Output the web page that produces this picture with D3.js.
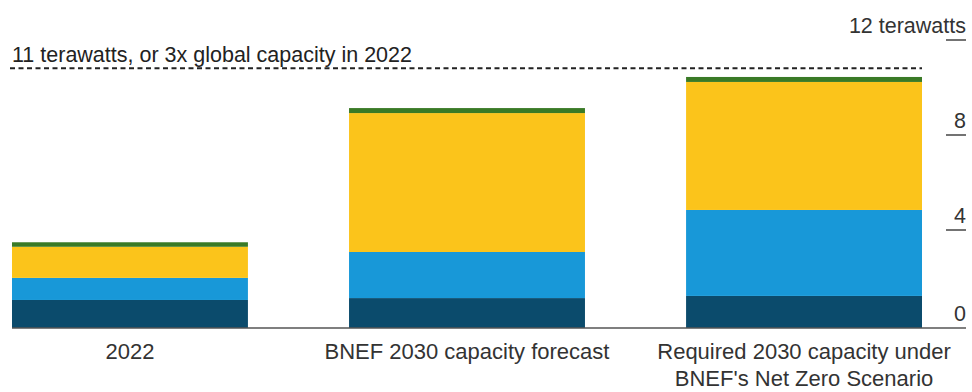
<!DOCTYPE html>
<html>
<head>
<meta charset="utf-8">
<script src="https://cdn.jsdelivr.net/npm/d3@7/dist/d3.min.js"></script>
<style>
  html, body { margin: 0; padding: 0; background: #ffffff; }
  svg { display: block; }
  text { font-family: "Liberation Sans", Arial, Helvetica, sans-serif; }
</style>
</head>
<body>
<svg id="chart" width="972" height="392"></svg>
<script>
// ---- data ----
const categories = [
  ["2022"],
  ["BNEF 2030 capacity forecast"],
  ["Required 2030 capacity under", "BNEF's Net Zero Scenario"]
];
const seriesNames = ["Dark", "Blue", "Yellow", "Green"];
const darkValues   = [1.18, 1.26, 1.35];
const blueValues   = [0.93, 1.94, 3.62];
const yellowValues = [1.31, 5.85, 5.39];
const greenValues  = [0.19, 0.21, 0.21];
const tickValues = [0, 4, 8, 12];
const tickLabels = ["0", "4", "8", "12 terawatts"];
const targetValue = 11;
const targetLabel = "11 terawatts, or 3x global capacity in 2022";
const colors = ["#0b4b6c", "#1898d8", "#fbc41b", "#3a7a26"];

// ---- build ----
const svg = d3.select("#chart");
const baseY = 328, topY = 43;
const x = d3.scaleBand().domain(d3.range(categories.length)).range([12, 922]).paddingInner(0.3).paddingOuter(0);
const y = d3.scaleLinear().domain([0, 12]).range([baseY, topY]);

const table = categories.map((c, i) => ({
  i, Dark: darkValues[i], Blue: blueValues[i], Yellow: yellowValues[i], Green: greenValues[i]
}));
const stack = d3.stack().keys(seriesNames)(table);

svg.append("g").selectAll("g").data(stack).join("g")
  .attr("fill", (d, k) => colors[k])
  .selectAll("rect").data(d => d).join("rect")
  .attr("x", d => x(d.data.i))
  .attr("width", x.bandwidth())
  .attr("y", d => y(d[1]))
  .attr("height", d => y(d[0]) - y(d[1]));

// target dashed line
svg.append("line")
  .attr("x1", 10).attr("x2", x(2) + x.bandwidth())
  .attr("y1", y(targetValue) + 1.5).attr("y2", y(targetValue) + 1.5)
  .attr("stroke", "#222").attr("stroke-width", 2).attr("stroke-dasharray", "5,3.5");
svg.append("text")
  .attr("x", 12).attr("y", y(targetValue) - 5)
  .attr("font-size", 21.5).attr("fill", "#222")
  .text(targetLabel);

// baseline
svg.append("line")
  .attr("x1", 12).attr("x2", 966)
  .attr("y1", y(0)).attr("y2", y(0))
  .attr("stroke", "#555").attr("stroke-width", 1.5);

// right axis ticks
const axisG = svg.append("g");
tickValues.forEach((v, k) => {
  if (v !== 0) {
    axisG.append("line")
      .attr("x1", 946).attr("x2", 966)
      .attr("y1", y(v) - 3).attr("y2", y(v) - 3)
      .attr("stroke", "#444").attr("stroke-width", 1.5);
  }
  axisG.append("text")
    .attr("x", 966).attr("y", y(v) - (v === 0 ? 7 : 10))
    .attr("text-anchor", "end")
    .attr("font-size", 21.5).attr("fill", "#333")
    .text(tickLabels[k]);
});

// category labels
const labG = svg.append("g");
categories.forEach((lines, i) => {
  const cx = x(i) + x.bandwidth() / 2;
  lines.forEach((ln, j) => {
    labG.append("text")
      .attr("x", cx).attr("y", 359 + j * 27)
      .attr("text-anchor", "middle")
      .attr("font-size", 22).attr("fill", "#333")
      .text(ln);
  });
});
</script>
</body>
</html>
